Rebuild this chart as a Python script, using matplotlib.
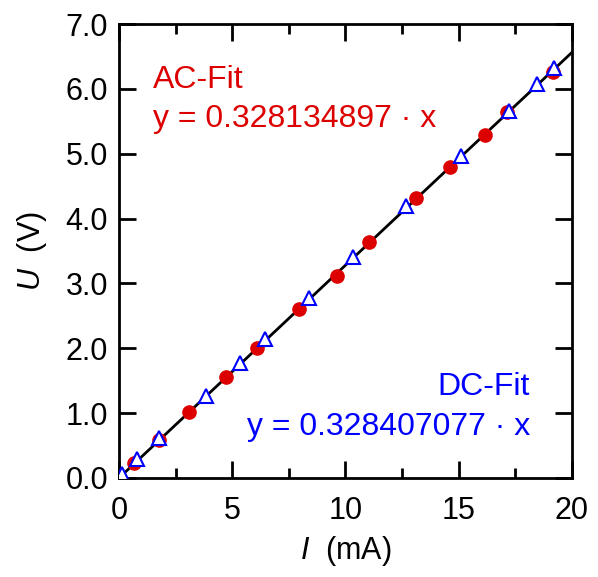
import numpy as np
import matplotlib
matplotlib.use("Agg")
from matplotlib import pyplot as plt
from matplotlib.ticker import MultipleLocator, FormatStrFormatter

plt.rcParams['font.family'] = ['Liberation Sans', 'DejaVu Sans']
plt.rcParams['mathtext.fontset'] = 'custom'
plt.rcParams['mathtext.rm'] = 'Liberation Sans'
plt.rcParams['mathtext.it'] = 'Liberation Sans:italic'

# AC measurement (red dots)
ac_current = [0.66, 1.78, 3.09, 4.72, 6.08, 7.95, 9.61, 11.05, 13.10, 14.61, 16.16, 17.14, 19.15]
ac_voltage = [0.23, 0.59, 1.02, 1.55, 2.01, 2.61, 3.12, 3.64, 4.31, 4.80, 5.29, 5.65, 6.26]

# DC measurement (open triangles)
dc_current = [0.15, 0.81, 1.78, 3.84, 5.34, 6.45, 8.39, 10.31, 12.67, 15.10, 17.23, 18.44, 19.22]
dc_voltage = [0.06, 0.29, 0.61, 1.27, 1.77, 2.14, 2.77, 3.40, 4.20, 4.97, 5.66, 6.07, 6.32]

ac_slope = 0.328134897
dc_slope = 0.328407077
fit_x = [0, 20]

red = '#dd0000'
blue = '#0000ff'

fig = plt.figure(figsize=(5.98, 5.77), dpi=100)
ax = fig.add_axes([0.199, 0.1716, 0.7575, 0.7868])

ax.plot(fit_x, [ac_slope * x for x in fit_x], color='black', lw=2, zorder=2)
ax.plot(ac_current, ac_voltage, 'o', color=red, ms=9.5, mec=red, zorder=3)
ax.plot(dc_current, dc_voltage, '^', mfc='white', mec=blue, mew=1.5, ms=10.5, zorder=4)

ax.set_xlim(0, 20)
ax.set_ylim(0, 7)
ax.xaxis.set_major_locator(MultipleLocator(5))
ax.xaxis.set_minor_locator(MultipleLocator(2.5))
ax.yaxis.set_major_locator(MultipleLocator(1))
ax.yaxis.set_major_formatter(FormatStrFormatter('%.1f'))

for s in ax.spines.values():
    s.set_linewidth(2)
ax.tick_params(which='both', direction='in', top=True, right=True, width=2, labelsize=22)
ax.tick_params(which='major', length=12, pad=8)
ax.tick_params(axis='x', which='major', pad=13)
ax.tick_params(which='minor', length=7)

ax.set_xlabel(r'$\mathit{I}$  (mA)', fontsize=22, labelpad=6)
ax.set_ylabel(r'$\mathit{U}$  (V)', fontsize=22, labelpad=12)

ax.text(0.075, 0.859, 'AC-Fit', color=red, fontsize=23, transform=ax.transAxes, va='baseline')
ax.text(0.075, 0.773, f'y = {ac_slope:.9f} · x', color=red, fontsize=23,
        transform=ax.transAxes, va='baseline')
ax.text(0.907, 0.183, 'DC-Fit', color=blue, fontsize=23, transform=ax.transAxes,
        va='baseline', ha='right')
ax.text(0.907, 0.095, f'y = {dc_slope:.9f} · x', color=blue, fontsize=23,
        transform=ax.transAxes, va='baseline', ha='right')

fig.savefig('out.png', dpi=100)
